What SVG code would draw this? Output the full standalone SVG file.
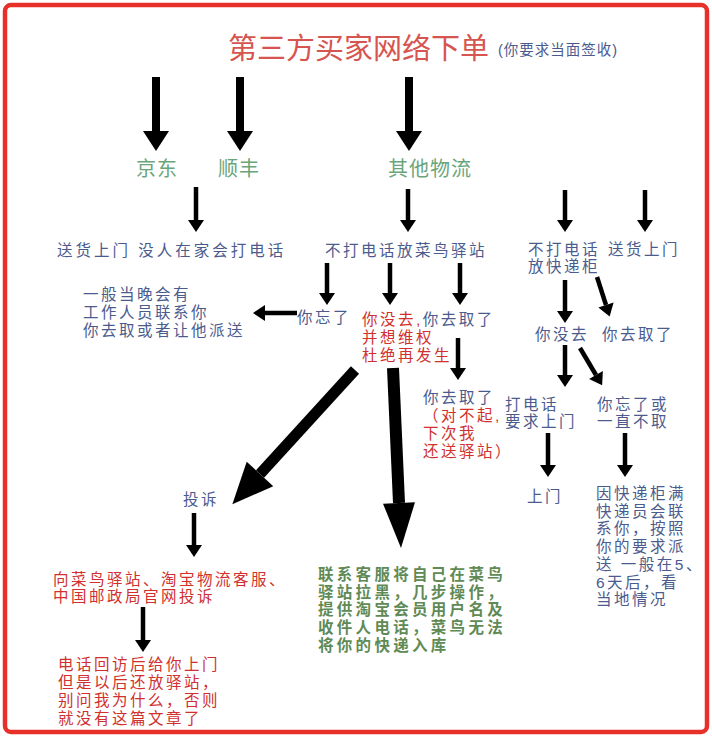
<svg xmlns="http://www.w3.org/2000/svg" width="712" height="738" viewBox="0 0 712 738">
<style>
text{font-family:"Liberation Sans","Noto Sans CJK SC",sans-serif;font-size:15.5px;letter-spacing:2.5px}
.b{fill:#4b5b8e}
.r{fill:#d0302e}
.g{fill:#6aa57a;font-size:20px;letter-spacing:1px}
.gb{fill:#5f8a55;font-weight:bold;letter-spacing:3.3px}
.t{fill:#d65550;font-size:29px;letter-spacing:0}
.a{stroke:#000;fill:none}
.s{stroke-width:4.5;marker-end:url(#ms)}
.k{stroke-width:8;marker-end:url(#mb)}
</style>
<defs>
<marker id="ms" markerUnits="userSpaceOnUse" markerWidth="14" markerHeight="18" refX="0" refY="8" orient="auto" overflow="visible"><path d="M0,0L12,8L0,16Z" fill="#000"/></marker>
<marker id="mb" markerUnits="userSpaceOnUse" markerWidth="22" markerHeight="28" refX="0" refY="13" orient="auto" overflow="visible"><path d="M0,0L20,13L0,26Z" fill="#000"/></marker>
<marker id="mh" markerUnits="userSpaceOnUse" markerWidth="44" markerHeight="38" refX="0" refY="18" orient="auto" overflow="visible"><path d="M0,0L41,18L0,36Z" fill="#000"/></marker>
<marker id="mv" markerUnits="userSpaceOnUse" markerWidth="47" markerHeight="33" refX="0" refY="16" orient="auto" overflow="visible"><path d="M0,0L45,16L0,32Z" fill="#000"/></marker>
</defs>
<rect width="712" height="738" fill="#fff"/>
<rect x="5" y="5" width="702" height="727" rx="6" fill="none" stroke="#e8302a" stroke-width="4.5"/>

<g id="connectors">
<line class="a k" x1="156" y1="77" x2="156" y2="131"/>
<line class="a k" x1="240" y1="77" x2="240" y2="131"/>
<line class="a k" x1="409" y1="77" x2="409" y2="131"/>
<line class="a s" x1="196" y1="187" x2="196" y2="220"/>
<line class="a s" x1="408" y1="189" x2="408" y2="220"/>
<line class="a s" x1="565" y1="190" x2="565" y2="220"/>
<line class="a s" x1="645" y1="190" x2="645" y2="220"/>
<line class="a s" x1="327" y1="263" x2="327" y2="293"/>
<line class="a s" x1="390" y1="263" x2="390" y2="293"/>
<line class="a s" x1="460" y1="263" x2="460" y2="293"/>
<line class="a s" x1="297" y1="313" x2="265" y2="313"/>
<line class="a s" x1="458" y1="338" x2="458" y2="368"/>
<line class="a s" x1="565" y1="280" x2="565" y2="311"/>
<line class="a s" x1="597" y1="277" x2="606" y2="305"/>
<line class="a s" x1="565" y1="345" x2="565" y2="375"/>
<line class="a s" x1="580" y1="348" x2="596" y2="375"/>
<line class="a s" x1="548" y1="433" x2="548" y2="465"/>
<line class="a s" x1="625" y1="433" x2="625" y2="465"/>
<line class="a s" x1="194" y1="513" x2="194" y2="545"/>
<line class="a s" x1="143" y1="607" x2="143" y2="640"/>
<line class="a" stroke-width="11" x1="355" y1="370" x2="260" y2="474" marker-end="url(#mh)"/>
<line class="a" stroke-width="12" x1="393" y1="368" x2="399" y2="503" marker-end="url(#mv)"/>
</g>

<g id="title">
<text class="t" x="228" y="59">第三方买家网络下单</text>
<text class="b" x="498" y="55" style="font-size:14.5px;letter-spacing:1px">(你要求当面签收)</text>
</g>
<g id="jd"><text class="g" x="136" y="176">京东</text></g>
<g id="sf"><text class="g" x="218" y="176">顺丰</text></g>
<g id="other"><text class="g" x="388" y="176">其他物流</text></g>

<g id="n-home"><text class="b" x="57" y="256" style="letter-spacing:3px">送货上门 没人在家会打电话</text></g>
<g id="n-station"><text class="b" x="325" y="256">不打电话放菜鸟驿站</text></g>
<g id="n-contact"><text class="b" x="83" y="300">一般当晚会有</text><text class="b" x="83" y="318">工作人员联系你</text><text class="b" x="83" y="336">你去取或者让他派送</text></g>
<g id="n-forgot"><text class="b" x="297" y="323">你忘了</text></g>
<g id="n-notgo"><text x="362" y="325"><tspan class="r">你没去,</tspan><tspan class="b">你去取了</tspan></text><text class="r" x="362" y="343">并想维权</text><text class="r" x="362" y="361">杜绝再发生</text></g>
<g id="n-took"><text class="b" x="423" y="403">你去取了</text><text class="r" x="423" y="421">（对不起,</text><text class="r" x="423" y="439">下次我</text><text class="r" x="423" y="457">还送驿站）</text></g>
<g id="n-complain"><text class="b" x="183" y="505">投诉</text></g>
<g id="n-complain2"><text class="r" x="53" y="585">向菜鸟驿站、淘宝物流客服、</text><text class="r" x="53" y="602">中国邮政局官网投诉</text></g>
<g id="n-callback"><text class="r" x="58" y="670">电话回访后给你上门</text><text class="r" x="58" y="688">但是以后还放驿站，</text><text class="r" x="58" y="706">别问我为什么，否则</text><text class="r" x="58" y="724">就没有这篇文章了</text></g>
<g id="n-block"><text class="gb" x="318" y="580">联系客服将自己在菜鸟</text><text class="gb" x="318" y="597.5">驿站拉黑，几步操作，</text><text class="gb" x="318" y="615">提供淘宝会员用户名及</text><text class="gb" x="318" y="633">收件人电话，菜鸟无法</text><text class="gb" x="318" y="651">将你的快递入库</text></g>

<g id="n-locker"><text class="b" x="528" y="255">不打电话</text><text class="b" x="528" y="272">放快递柜</text></g>
<g id="n-home2"><text class="b" x="608" y="255">送货上门</text></g>
<g id="n-notgo2"><text class="b" x="535" y="340">你没去</text></g>
<g id="n-took2"><text class="b" x="602" y="340">你去取了</text></g>
<g id="n-call"><text class="b" x="505" y="410">打电话</text><text class="b" x="505" y="427">要求上门</text></g>
<g id="n-forgot2"><text class="b" x="597" y="410">你忘了或</text><text class="b" x="597" y="427">一直不取</text></g>
<g id="n-door"><text class="b" x="527" y="502">上门</text></g>
<g id="n-full"><text class="b" x="596" y="499">因快递柜满</text><text class="b" x="596" y="516.7">快递员会联</text><text class="b" x="596" y="534.4">系你，按照</text><text class="b" x="596" y="552.1">你的要求派</text><text class="b" x="596" y="569.8">送 一般在5、</text><text class="b" x="596" y="587.5">6天后，看</text><text class="b" x="596" y="605.2">当地情况</text></g>
</svg>
